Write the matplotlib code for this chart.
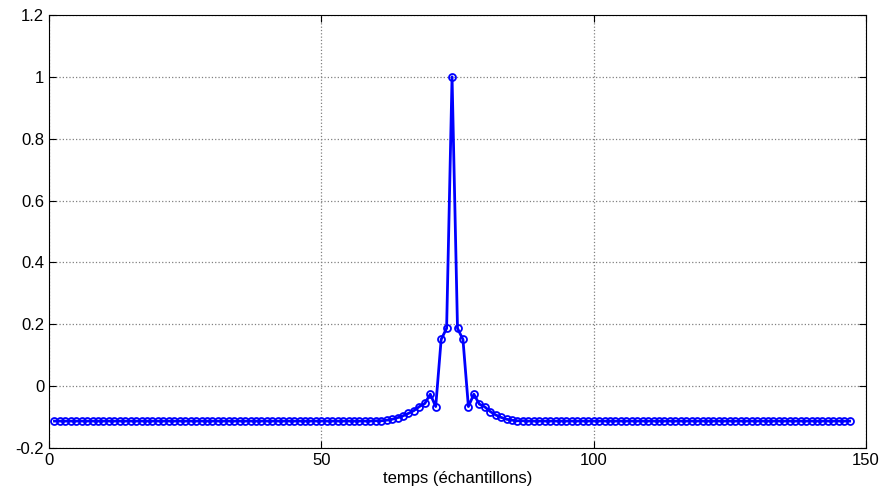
import numpy as np
import matplotlib.pyplot as plt

plt.rcParams['font.family'] = ['Liberation Sans', 'DejaVu Sans']

# sample index (1..147) and response values
n_samples = 147
baseline = -0.113
# values around the peak, samples 60..88
peak_start = 60
peak_vals = [-0.112, -0.112, -0.110, -0.107, -0.102, -0.096, -0.088, -0.079,
             -0.066, -0.056, -0.026, -0.066, 0.151, 0.187, 1.0,
             0.187, 0.151, -0.066, -0.026, -0.058, -0.067, -0.082, -0.093,
             -0.101, -0.107, -0.110, -0.112, -0.112, -0.113]

samples = np.arange(1, n_samples + 1)
values = np.full(n_samples, baseline)
values[peak_start - 1:peak_start - 1 + len(peak_vals)] = peak_vals

fig = plt.figure(figsize=(8.86, 4.95), dpi=100)
ax = fig.add_axes([49 / 886, 1 - 448 / 495, (866 - 49) / 886, (448 - 15) / 495])

ax.plot(samples, values, color='#0000ff', linewidth=2, marker='o',
        markersize=5, markerfacecolor='none', markeredgewidth=1.3)

ax.set_xlim(0, 150)
ax.set_ylim(-0.2, 1.2)
ax.set_xticks([0, 50, 100, 150])
ax.set_yticks([-0.2, 0, 0.2, 0.4, 0.6, 0.8, 1, 1.2])
ax.set_yticklabels(['-0.2', '0', '0.2', '0.4', '0.6', '0.8', '1', '1.2'])
ax.tick_params(direction='in', top=True, right=True, labelsize=12, length=5)
ax.grid(True, linestyle=':', color='#808080', linewidth=0.9)
ax.set_xlabel('temps (échantillons)', fontsize=12, labelpad=2)

fig.savefig('out.png', dpi=100)
